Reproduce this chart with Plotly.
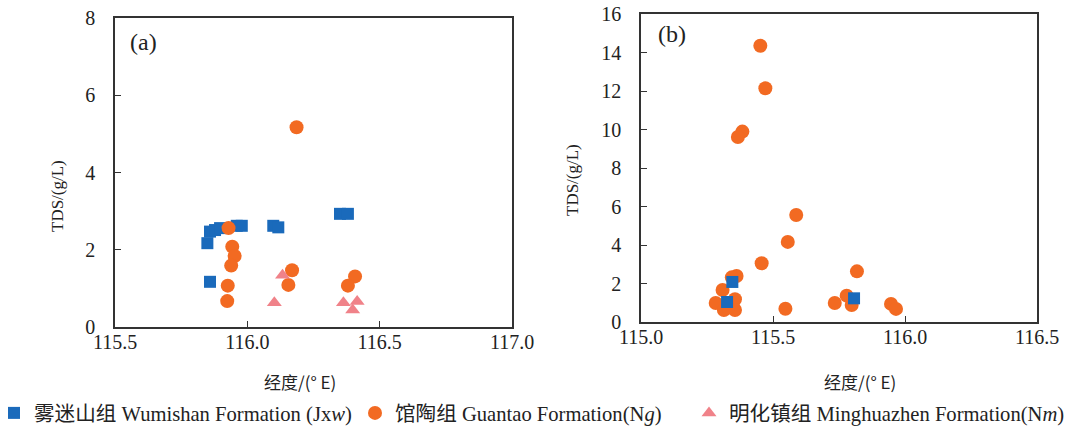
import plotly.graph_objects as go

# ---------------- data ----------------
# Panel (a)
a_wu_lon = [115.849, 115.859, 115.878, 115.897, 115.960, 115.979, 116.098, 116.117, 116.350, 116.380, 115.859]
a_wu_tds = [2.17, 2.47, 2.51, 2.56, 2.62, 2.62, 2.62, 2.58, 2.93, 2.93, 1.17]

a_gt_lon = [116.186, 115.929, 115.943, 115.952, 115.939, 115.926, 115.924, 116.169, 116.155, 116.407, 116.380]
a_gt_tds = [5.17, 2.56, 2.08, 1.84, 1.59, 1.07, 0.67, 1.47, 1.09, 1.31, 1.07]

a_mh_lon = [116.133, 116.102, 116.363, 116.415, 116.398]
a_mh_tds = [1.34, 0.63, 0.63, 0.66, 0.44]

# Panel (b)
b_gt_lon = [115.452, 115.471, 115.384, 115.367, 115.588, 115.556, 115.457, 115.818, 115.547,
            115.734, 115.779, 115.798, 115.947, 115.966, 115.362, 115.344, 115.309, 115.283,
            115.356, 115.314, 115.356, 115.330]
b_gt_tds = [14.35, 12.14, 9.89, 9.61, 5.56, 4.16, 3.05, 2.63, 0.69,
            0.99, 1.37, 0.88, 0.94, 0.68, 2.39, 2.32, 1.66, 0.99,
            1.18, 0.62, 0.62, 0.75]

b_wu_lon = [115.346, 115.326, 115.807]
b_wu_tds = [2.08, 1.04, 1.23]

names = ["雾迷山组 Wumishan Formation (Jx<i>w</i>)",
         "馆陶组 Guantao Formation(N<i>g</i>)",
         "明化镇组 Minghuazhen Formation(N<i>m</i>)"]

xa_ticks = [115.5, 116.0, 116.5, 117.0]
xb_ticks = [115.0, 115.5, 116.0, 116.5]
ya_ticks = [0, 2, 4, 6, 8]
yb_ticks = [0, 2, 4, 6, 8, 10, 12, 14, 16]

# ---------------- style ----------------
W, H = 1074, 429
BLUE = "#1a6abb"
ORANGE = "#f26a22"
PINK = "#f08289"
AX = "#333333"
SERIF = "Liberation Serif, Noto Sans CJK SC, serif"
CJK = "Noto Sans CJK SC, Liberation Serif, sans-serif"


def px(x):
    return x / W


def py(y):
    return 1 - y / H


fig = go.Figure()

# panel (a)
fig.add_trace(go.Scatter(x=a_wu_lon, y=a_wu_tds, mode="markers", name=names[0],
                         marker=dict(symbol="square", size=12, color=BLUE),
                         xaxis="x", yaxis="y", legend="legend"))
fig.add_trace(go.Scatter(x=a_gt_lon, y=a_gt_tds, mode="markers", name=names[1],
                         marker=dict(symbol="circle", size=14, color=ORANGE),
                         xaxis="x", yaxis="y", legend="legend2"))
fig.add_trace(go.Scatter(x=a_mh_lon, y=a_mh_tds, mode="markers", name=names[2],
                         marker=dict(symbol="triangle-up", size=13, color=PINK),
                         xaxis="x", yaxis="y", legend="legend3"))

# panel (b)
fig.add_trace(go.Scatter(x=b_gt_lon, y=b_gt_tds, mode="markers", name=names[1],
                         marker=dict(symbol="circle", size=14, color=ORANGE),
                         xaxis="x2", yaxis="y2", showlegend=False))
fig.add_trace(go.Scatter(x=b_wu_lon, y=b_wu_tds, mode="markers", name=names[0],
                         marker=dict(symbol="square", size=12, color=BLUE),
                         xaxis="x2", yaxis="y2", showlegend=False))

axis_common = dict(showline=True, mirror=True, linecolor=AX, linewidth=1.5,
                   ticks="inside", ticklen=6, tickwidth=1.2, tickcolor=AX,
                   showgrid=False, zeroline=False, automargin=False,
                   tickfont=dict(family=SERIF, size=20, color="#222"))

LEG_FONT = dict(family=SERIF, size=20.6, color="#222")

fig.update_layout(
    width=W, height=H,
    margin=dict(l=0, r=0, t=0, b=0, autoexpand=False),
    paper_bgcolor="white", plot_bgcolor="white",
    xaxis=dict(domain=[px(115), px(512)], range=[115.5, 117.0], tickvals=xa_ticks,
               tickformat=".1f", anchor="y", ticklabelstandoff=-4, **axis_common),
    yaxis=dict(domain=[py(327), py(18)], range=[0, 8], tickvals=ya_ticks,
               anchor="x", ticklabelstandoff=14, **axis_common),
    xaxis2=dict(domain=[px(641), px(1037)], range=[115.0, 116.5], tickvals=xb_ticks,
                tickformat=".1f", anchor="y2", ticklabelstandoff=-4, **axis_common),
    yaxis2=dict(domain=[py(322), py(14)], range=[0, 16], tickvals=yb_ticks,
                anchor="x2", ticklabelstandoff=14, **axis_common),
    legend=dict(orientation="h", x=px(-6), y=py(413), xanchor="left", yanchor="middle",
                font=LEG_FONT, bgcolor="rgba(0,0,0,0)"),
    legend2=dict(orientation="h", x=px(355), y=py(413), xanchor="left", yanchor="middle",
                 font=LEG_FONT, bgcolor="rgba(0,0,0,0)"),
    legend3=dict(orientation="h", x=px(689), y=py(413), xanchor="left", yanchor="middle",
                 font=LEG_FONT, bgcolor="rgba(0,0,0,0)"),
    showlegend=True,
)

ann_common = dict(xref="paper", yref="paper", showarrow=False,
                  xanchor="center", yanchor="middle")
annotations = [
    dict(text="(a)", x=px(143), y=py(42), font=dict(family=SERIF, size=24, color="#222"),
         **ann_common),
    dict(text="(b)", x=px(672), y=py(34), font=dict(family=SERIF, size=24, color="#222"),
         **ann_common),
    dict(text="TDS/(g/L)", x=px(57), y=py(196), textangle=-90,
         font=dict(family=SERIF, size=17, color="#222"), **ann_common),
    dict(text="TDS/(g/L)", x=px(572), y=py(180), textangle=-90,
         font=dict(family=SERIF, size=17, color="#222"), **ann_common),
    dict(text="经度/(° E)", x=px(300), y=py(381),
         font=dict(family=CJK, size=17, color="#222"), **ann_common),
    dict(text="经度/(° E)", x=px(860), y=py(381),
         font=dict(family=CJK, size=17, color="#222"), **ann_common),
]
fig.update_layout(annotations=annotations)

fig.write_html("out.html")
